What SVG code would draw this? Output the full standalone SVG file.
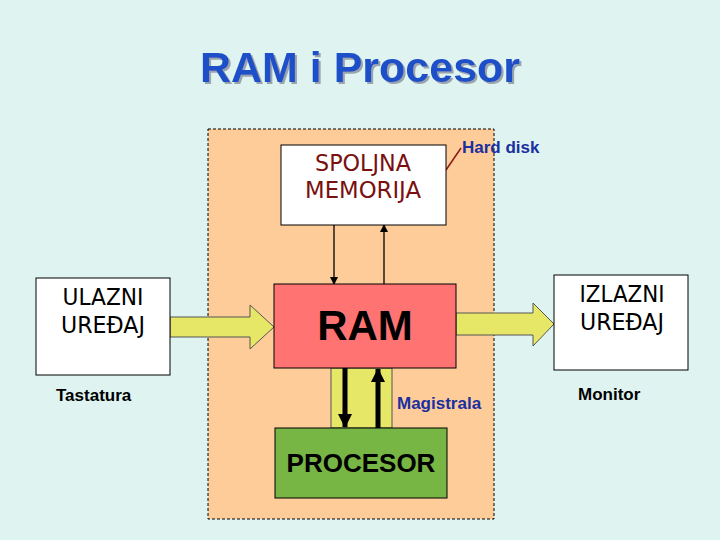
<svg xmlns="http://www.w3.org/2000/svg" width="720" height="540" viewBox="0 0 720 540">
<defs>
<style>
.lbl{font-family:"DejaVu Sans",sans-serif;font-size:23px;text-anchor:middle}
.blue{font-family:"Liberation Sans",Arial,sans-serif;font-weight:bold;font-size:17px;fill:#1a2fa0}
.dev{font-family:"Liberation Sans",Arial,sans-serif;font-weight:bold;font-size:17px;fill:#000}
.box{fill:#fff;stroke:#000;stroke-width:1}
.yel{fill:#e6e667;stroke:#555;stroke-width:1}
</style>
<filter id="sh" x="-5%" y="-20%" width="110%" height="140%"><feDropShadow dx="2" dy="2" stdDeviation="0.5" flood-color="#9aa4ac"/></filter>
<marker id="ah" markerWidth="8" markerHeight="8" refX="7" refY="4" orient="auto" markerUnits="userSpaceOnUse"><path d="M0,0 L8,4 L0,8 z" fill="#000"/></marker>
<marker id="bh" markerWidth="14" markerHeight="14" refX="13" refY="7" orient="auto" markerUnits="userSpaceOnUse"><path d="M0,0 L14,7 L0,14 z" fill="#000"/></marker>
</defs>
<rect width="720" height="540" fill="#dff4f1"/>
<text x="360" y="82" font-family="Liberation Sans,Arial,sans-serif" font-weight="bold" font-size="43" text-anchor="middle" fill="#1f4fc8" filter="url(#sh)">RAM i Procesor</text>
<g id="cpu-area"><rect x="208" y="129" width="286" height="390" fill="#fdcc99" stroke="#000" stroke-dasharray="3,2"/></g>
<g id="connectors">
<rect class="yel" x="331" y="368" width="61" height="60"/>
<line x1="345" y1="368" x2="345" y2="427" stroke="#000" stroke-width="5" marker-end="url(#bh)"/>
<line x1="378" y1="428" x2="378" y2="369" stroke="#000" stroke-width="5" marker-end="url(#bh)"/>
<line x1="334" y1="225" x2="334" y2="284" stroke="#000" stroke-width="1.3" marker-end="url(#ah)"/>
<line x1="384" y1="284" x2="384" y2="225" stroke="#000" stroke-width="1.3" marker-end="url(#ah)"/>
<path class="yel" d="M170,317 L250,317 L250,305 L274,327 L250,349 L250,337 L170,337 z"/>
<path class="yel" d="M456,313 L533,313 L533,303 L554,324 L533,346 L533,335 L456,335 z"/>
<line x1="446" y1="170" x2="461" y2="148" stroke="#8b1a1a" stroke-width="1.5"/>
</g>
<g id="spoljna"><rect class="box" x="281" y="145" width="165" height="80"/>
<text class="lbl" x="363" y="171" fill="#7a1010" textLength="96" lengthAdjust="spacingAndGlyphs">SPOLJNA</text><text class="lbl" x="363" y="198" fill="#7a1010" textLength="116" lengthAdjust="spacingAndGlyphs">MEMORIJA</text></g>
<text class="blue" x="462" y="153">Hard disk</text>
<g id="ram"><rect x="274" y="284" width="182" height="84" fill="#ff7373" stroke="#000"/>
<text x="365" y="340" font-family="Liberation Sans,Arial,sans-serif" font-weight="bold" font-size="42" text-anchor="middle">RAM</text></g>
<g id="procesor"><rect x="275" y="428" width="172" height="70" fill="#77b545" stroke="#000"/>
<text x="361" y="472" font-family="Liberation Sans,Arial,sans-serif" font-weight="bold" font-size="26" text-anchor="middle">PROCESOR</text></g>
<text class="blue" x="397" y="409">Magistrala</text>
<g id="ulazni"><rect class="box" x="36" y="278" width="134" height="97"/>
<text class="lbl" x="103" y="305" fill="#000" textLength="81" lengthAdjust="spacingAndGlyphs">ULAZNI</text><text class="lbl" x="103" y="333" fill="#000" textLength="84" lengthAdjust="spacingAndGlyphs">UREĐAJ</text></g>
<text class="dev" x="56" y="401">Tastatura</text>
<g id="izlazni"><rect class="box" x="554" y="275" width="134" height="95"/>
<text class="lbl" x="622" y="302" fill="#000" textLength="85" lengthAdjust="spacingAndGlyphs">IZLAZNI</text><text class="lbl" x="622" y="330" fill="#000" textLength="84" lengthAdjust="spacingAndGlyphs">UREĐAJ</text></g>
<text class="dev" x="578" y="400">Monitor</text>
</svg>
